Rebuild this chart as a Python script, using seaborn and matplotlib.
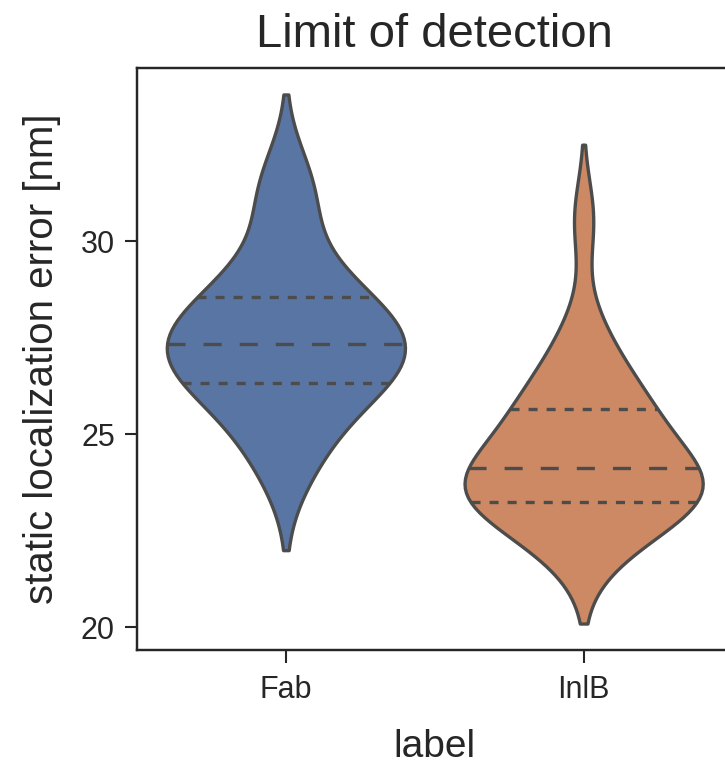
import numpy as np
import pandas as pd
import matplotlib
matplotlib.use("Agg")
import matplotlib.pyplot as plt
from matplotlib.collections import LineCollection
import seaborn as sns

# ---- data (values in nm and how often each occurs) ----
categories = ["Fab", "InlB"]

fab_values = [22.0,23.51,23.61,23.72,23.82,23.92,24.02,24.12,24.22,24.32,24.42,24.52,24.62,24.73,24.83,24.93,25.03,25.13,25.23,25.33,25.43,25.53,25.63,25.73,25.84,25.94,26.04,26.14,26.24,26.34,26.45,26.56,26.67,26.78,26.89,27.0,27.11,27.22,27.33,27.42,27.51,27.59,27.68,27.77,27.86,27.95,28.03,28.12,28.21,28.3,28.39,28.47,28.57,28.67,28.77,28.87,28.97,29.07,29.17,29.27,29.37,29.47,29.57,29.67,29.77,29.87,29.97,30.08,30.18,30.28,30.38,30.48,30.58,30.68,30.78,30.88,30.98,31.08,31.18,31.28,31.38,31.48,31.59,31.69,31.79,31.89,31.99,32.09,33.8]
fab_counts = [1,1,1,3,4,6,7,9,9,9,9,9,8,8,7,7,6,6,6,7,7,8,9,10,11,13,15,17,20,22,25,27,29,30,31,31,30,28,27,25,23,22,20,19,18,17,16,16,16,16,15,15,15,15,14,14,12,11,10,8,7,6,5,4,3,3,2,2,2,2,2,2,2,3,4,5,6,8,10,12,14,14,12,10,6,3,1,1,1]

inlb_values = [20.1,21.08,21.17,21.27,21.37,21.47,21.57,21.66,21.76,21.86,21.96,22.05,22.15,22.25,22.35,22.44,22.54,22.64,22.74,22.83,22.93,23.03,23.13,23.23,23.32,23.42,23.52,23.62,23.72,23.82,23.92,24.02,24.12,24.22,24.31,24.41,24.51,24.6,24.7,24.79,24.89,24.99,25.08,25.18,25.28,25.37,25.47,25.56,25.66,25.76,25.86,25.97,26.07,26.17,26.27,26.37,26.48,26.58,26.68,26.78,26.89,26.99,27.09,27.19,27.29,27.4,27.5,27.6,27.7,27.8,27.91,28.01,28.11,28.21,28.31,28.42,28.52,28.62,28.72,28.82,28.93,29.64,29.74,29.85,29.95,30.05,30.15,30.25,30.36,30.46,30.56,30.66,30.76,30.87,30.97,31.07,31.17,32.5]
inlb_counts = [1,1,1,3,5,7,10,13,16,18,19,21,21,23,24,26,28,32,36,41,48,55,62,68,74,78,79,78,75,70,64,58,52,46,41,38,35,33,31,31,31,31,32,33,34,35,36,36,36,35,33,32,29,27,25,22,20,19,17,16,16,15,15,14,14,14,13,12,12,10,9,7,6,5,3,3,2,1,1,1,1,1,1,1,2,2,4,6,8,11,14,15,13,10,6,3,1,1]

y_ticks = [20, 25, 30]

fab_data = np.repeat(fab_values, fab_counts)
inlb_data = np.repeat(inlb_values, inlb_counts)
df = pd.DataFrame({
    "label": [categories[0]] * len(fab_data) + [categories[1]] * len(inlb_data),
    "static localization error [nm]": np.concatenate([fab_data, inlb_data]),
})

# ---- style ----
sns.set_theme(style="ticks")
plt.rcParams["font.family"] = ["Liberation Sans", "DejaVu Sans"]

fig = plt.figure(figsize=(7.25, 7.67), dpi=100)
ax = fig.add_axes([137/725, 1 - 650/767, (732.5 - 137)/725, (650 - 68)/767])

LW = 2.4
sns.violinplot(data=df, x="label", y="static localization error [nm]", hue="label",
               order=categories, hue_order=categories, palette="deep",
               inner="quart", cut=0, bw_adjust=2.2624, linewidth=LW, ax=ax, legend=False)

# dashed median, dotted quartiles (long dash pattern)
meds = [float(np.median(fab_data)), float(np.median(inlb_data))]
med_style = (0, (13/LW, 13/LW))
q_style = (0, (6.5/LW, 6.5/LW))
for coll in ax.collections:
    if isinstance(coll, LineCollection):
        styles = []
        for seg in coll.get_segments():
            yv = np.asarray(seg)[0, 1]
            styles.append(med_style if min(abs(yv - m) for m in meds) < 1e-6 else q_style)
        coll.set_linestyle(styles)
for ln in ax.lines:
    yd = np.asarray(ln.get_ydata())
    if len(yd) == 2 and abs(yd[0] - yd[1]) < 1e-9:
        ln.set_linestyle(med_style if min(abs(yd[0] - m) for m in meds) < 1e-6 else q_style)

ax.set_title("Limit of detection", fontsize=34, pad=15)
ax.set_xlabel("label", fontsize=28, labelpad=17)
ax.set_ylabel("static localization error [nm]", fontsize=29, labelpad=14)
ax.set_yticks(y_ticks)
ax.tick_params(labelsize=22, length=9, width=1.5)
ax.tick_params(axis="x", pad=9)
ax.tick_params(axis="y", pad=7)
for s in ax.spines.values():
    s.set_linewidth(1.75)

fig.savefig("out.png", dpi=100)
